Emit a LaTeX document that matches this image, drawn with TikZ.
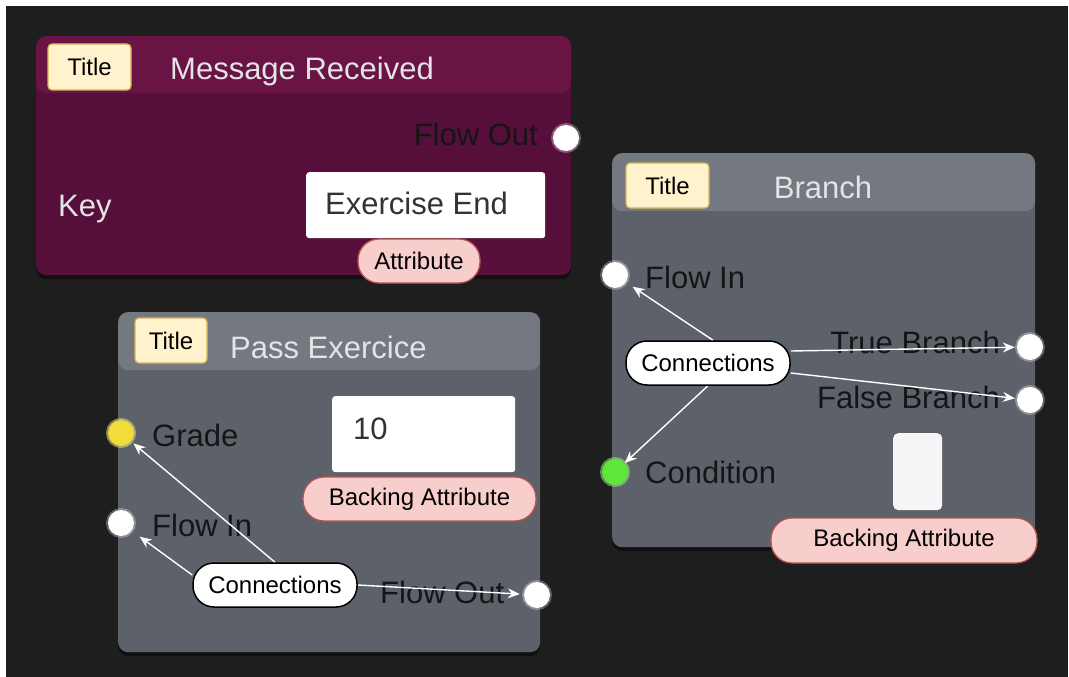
\documentclass[tikz,border=0pt]{standalone}
\usepackage{fontspec}
\setmainfont{Liberation Sans}
\usetikzlibrary{arrows.meta,shadows}
\pgfdeclarelayer{front}
\pgfsetlayers{main,front}

\definecolor{canvas}{HTML}{1E1E1E}
\definecolor{msghead}{HTML}{6A1446}
\definecolor{msgbody}{HTML}{560F3A}
\definecolor{greyhead}{HTML}{747981}
\definecolor{greybody}{HTML}{5C616A}
\definecolor{badgefill}{HTML}{FFF2CC}
\definecolor{badgedraw}{HTML}{D6B656}
\definecolor{pillfill}{HTML}{F8CECC}
\definecolor{pilldraw}{HTML}{B85450}
\definecolor{labelink}{HTML}{151515}
\definecolor{headink}{HTML}{E4E4E4}
\definecolor{gradeport}{HTML}{F2DC3A}
\definecolor{condport}{HTML}{5EE63A}

\newcommand{\bigfont}{\fontsize{31}{36}\selectfont}
\newcommand{\smallfont}{\fontsize{24}{28}\selectfont}

\begin{document}
\begin{tikzpicture}[x=1pt,y=-1pt,
  panel/.style args={#1/#2/#3}{rectangle, rounded corners=10pt, inner sep=0pt,
    anchor=north west, fill=#2,
    drop shadow={shadow xshift=0pt, shadow yshift=-4pt, opacity=0.45, fill=black},
    path picture={\fill[#1] (path picture bounding box.north west)
      rectangle ([yshift=-#3]path picture bounding box.north east);}},
  badge/.style={rectangle, rounded corners=4pt, fill=badgefill, draw=badgedraw,
    line width=1.2pt, inner sep=0pt, font=\smallfont, text=black},
  pill/.style={rectangle, rounded corners=21pt, fill=pillfill, draw=pilldraw,
    line width=1.3pt, inner sep=0pt, minimum height=44pt, font=\smallfont, text=black},
  hubpill/.style={rectangle, rounded corners=21pt, fill=white, draw=black,
    line width=1.5pt, inner sep=0pt, minimum width=164pt, minimum height=44pt,
    font=\smallfont, text=black},
  field/.style={rectangle, rounded corners=3pt, fill=white, inner sep=0pt, anchor=north west},
  headtitle/.style={inner sep=0pt, font=\bigfont, text=headink, text height=22pt, text depth=0pt},
  slot/.style={inner sep=0pt, font=\bigfont, text=labelink, text height=22pt, text depth=0pt},
  port/.style={circle, inner sep=0pt, minimum size=26pt, fill=white,
    preaction={draw=white, draw opacity=0.3, line width=4pt}},
  wire/.style={draw=white, line width=1.4pt, -{Stealth[length=12pt,width=10pt]}}
]
\useasboundingbox (0,0) rectangle (1069,677);
\fill[white] (0,0) rectangle (1069,677);
\fill[canvas] (6,6) rectangle (1068,677);

% ---------- Message Received ----------
\node[panel={msghead/msgbody/57pt}, minimum width=535pt, minimum height=239pt] (msg) at (36,36) {};
\node[badge, minimum width=83pt, minimum height=46pt] (msgbadge) at (89.5,67) {Title};
\node[headtitle, anchor=west] (msgtitle) at (170,69) {Message Received};
\node[slot, anchor=east] (msgoutlbl) at (538,135) {Flow Out};
\node[slot, anchor=west, text=headink] (msgkey) at (58,205) {Key};
\node[field, minimum width=239pt, minimum height=66pt] (msgfield) at (306,172) {};
\node[slot, anchor=west, text=black!80] (msgvalue) at (325,203) {Exercise End};
\node[pill, minimum width=122pt] (msgattr) at (419,261) {Attribute};
\node[port] (msgout) at (566,138) {};

% ---------- Pass Exercice ----------
\node[panel={greyhead/greybody/58pt}, minimum width=422pt, minimum height=340pt] (pass) at (118,312) {};
\node[badge, minimum width=72pt, minimum height=45pt] (passbadge) at (171,340.5) {Title};
\node[headtitle, anchor=west] (passtitle) at (230,347) {Pass Exercice};
\node[slot, anchor=west] (gradelbl) at (152,435) {Grade};
\node[slot, anchor=west] (passinlbl) at (152,525) {Flow In};
\node[slot, anchor=west] (passoutlbl) at (380,592) {Flow Out};
\node[field, minimum width=183pt, minimum height=76pt] (passfield) at (332,396) {};
\node[slot, anchor=west, text=black!80] (passvalue) at (353,428) {10};
\node[pill, minimum width=233pt] (passattr) at (419.5,499) {Backing Attribute};
\node[port, fill=gradeport, preaction={draw=gradeport, draw opacity=0.3, line width=4pt}] (grade) at (121,433) {};
\node[port] (passin) at (121,523) {};
\node[port] (passout) at (537,595) {};

% ---------- Branch ----------
\node[panel={greyhead/greybody/58pt}, minimum width=423pt, minimum height=394pt] (branch) at (612,153) {};
\node[badge, minimum width=83pt, minimum height=45pt] (branchbadge) at (667.5,185.5) {Title};
\node[headtitle] (branchtitle) at (823,187) {Branch};
\node[slot, anchor=west] (branchinlbl) at (645,277) {Flow In};
\node[slot, anchor=east] (truelbl) at (1000,342) {True Branch};
\node[slot, anchor=east] (falselbl) at (1000,397) {False Branch};
\node[slot, anchor=west] (condlbl) at (645,472) {Condition};
\node[field, fill=white!96!black, rounded corners=5pt, minimum width=49pt, minimum height=77pt] (condfield) at (893,433) {};
\node[pill, minimum width=266pt, minimum height=45pt] (branchattr) at (904,540.5) {Backing Attribute};
\node[port] (branchin) at (615,275) {};
\node[port] (truebr) at (1030,347) {};
\node[port] (falsebr) at (1030,400) {};
\node[port, fill=condport, preaction={draw=condport, draw opacity=0.3, line width=4pt}] (cond) at (615,472) {};

% ---------- connection hubs ----------
\begin{pgfonlayer}{front}
\node[hubpill] (passhub) at (275,585) {Connections};
\node[hubpill] (branchhub) at (708,363) {Connections};
\end{pgfonlayer}

% ---------- connectors ----------
\draw[wire, shorten >=3pt] (passhub.north) -- (grade);
\draw[wire, shorten >=10pt] ([yshift=10pt]passhub.west) -- (passin);
\draw[wire, shorten >=4pt] (passhub.east) -- (passout);

\draw[wire, shorten >=8pt] ([xshift=5pt]branchhub.north) -- (branchin);
\draw[wire] (branchhub.south) -- (cond);
\draw[wire, shorten >=2pt] ([yshift=12pt]branchhub.east) -- (truebr);
\draw[wire, shorten >=2pt] ([yshift=-10pt]branchhub.east) -- (falsebr);
\end{tikzpicture}
\end{document}
